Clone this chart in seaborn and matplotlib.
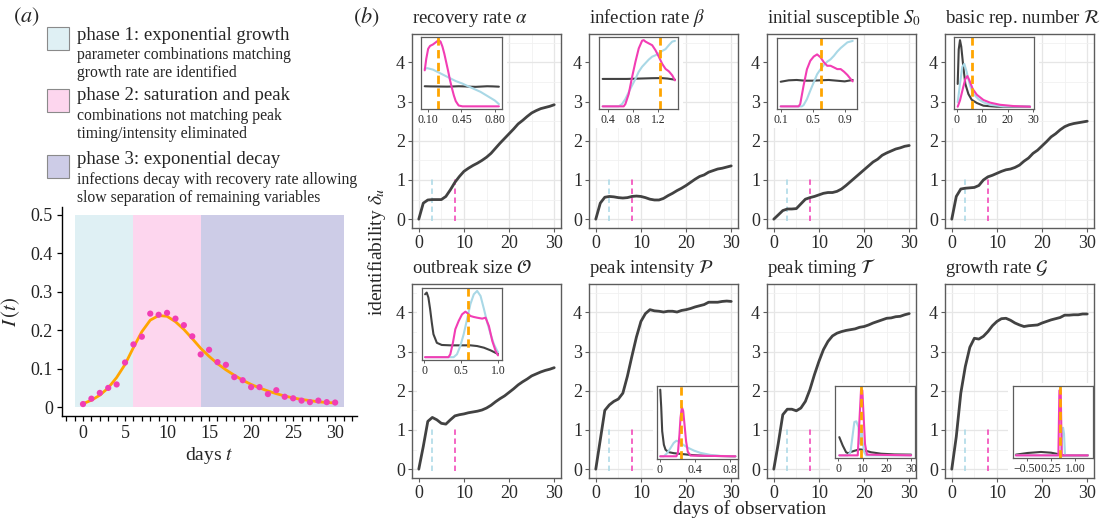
import matplotlib
matplotlib.use("Agg")
import matplotlib.pyplot as plt
import seaborn as sns
from matplotlib.patches import Rectangle
from matplotlib.ticker import MultipleLocator

# ---------------- data: panel (a) ----------------
obs_days = list(range(31))
I_obs = [0.008, 0.022, 0.037, 0.050, 0.059, 0.116, 0.163, 0.183, 0.243, 0.240,
         0.245, 0.230, 0.213, 0.184, 0.137, 0.149, 0.117, 0.110, 0.078, 0.070,
         0.052, 0.052, 0.034, 0.044, 0.027, 0.023, 0.017, 0.013, 0.017, 0.013, 0.012]
I_fit = [0.009, 0.018, 0.031, 0.050, 0.077, 0.111, 0.155, 0.196, 0.226, 0.238,
         0.236, 0.222, 0.202, 0.178, 0.153, 0.132, 0.113, 0.097, 0.083, 0.070,
         0.059, 0.050, 0.042, 0.035, 0.029, 0.024, 0.020, 0.017, 0.014, 0.012, 0.011]
phase_start = [-0.9, 6, 14]
phase_end = [6, 14, 31]
phase_titles = ["phase 1: exponential growth", "phase 2: saturation and peak",
                "phase 3: exponential decay"]
phase_desc = [["parameter combinations matching", "growth rate are identified"],
              ["combinations not matching peak", "timing/intensity eliminated"],
              ["infections decay with recovery rate allowing",
               "slow separation of remaining variables"]]

# ---------------- data: panel (b) main curves ----------------
days = list(range(31))
delta_alpha = [0, 0.41, 0.49, 0.50, 0.50, 0.50, 0.58, 0.75, 0.94, 1.09, 1.22, 1.30, 1.37,
               1.43, 1.50, 1.58, 1.68, 1.81, 1.94, 2.06, 2.18, 2.30, 2.43, 2.52, 2.62,
               2.71, 2.77, 2.82, 2.85, 2.88, 2.92]
delta_beta = [0, 0.41, 0.56, 0.58, 0.57, 0.55, 0.54, 0.55, 0.58, 0.59, 0.58, 0.55, 0.51,
              0.49, 0.49, 0.53, 0.60, 0.66, 0.73, 0.79, 0.86, 0.94, 1.02, 1.09, 1.13,
              1.20, 1.24, 1.28, 1.30, 1.33, 1.36]
delta_S0 = [0, 0.11, 0.22, 0.26, 0.26, 0.27, 0.39, 0.51, 0.55, 0.58, 0.62, 0.66, 0.68,
            0.68, 0.71, 0.77, 0.86, 0.96, 1.06, 1.16, 1.26, 1.36, 1.46, 1.53, 1.63,
            1.69, 1.74, 1.79, 1.82, 1.86, 1.88]
delta_R = [0, 0.58, 0.77, 0.79, 0.80, 0.81, 0.86, 1.00, 1.08, 1.12, 1.17, 1.22, 1.26,
           1.28, 1.32, 1.38, 1.48, 1.56, 1.68, 1.76, 1.87, 1.98, 2.10, 2.18, 2.28,
           2.36, 2.41, 2.44, 2.46, 2.48, 2.50]
delta_O = [0, 0.58, 1.22, 1.32, 1.26, 1.17, 1.15, 1.26, 1.36, 1.39, 1.41, 1.44, 1.46,
           1.48, 1.51, 1.56, 1.63, 1.72, 1.80, 1.87, 1.96, 2.05, 2.15, 2.23, 2.30,
           2.38, 2.43, 2.48, 2.52, 2.55, 2.59]
delta_P = [0, 0.75, 1.50, 1.64, 1.73, 1.79, 1.94, 2.37, 2.88, 3.37, 3.77, 3.97, 4.07,
           4.04, 4.03, 4.01, 4.03, 4.03, 4.01, 4.05, 4.07, 4.10, 4.14, 4.17, 4.20,
           4.26, 4.26, 4.26, 4.28, 4.29, 4.28]
delta_T = [0, 0.66, 1.39, 1.53, 1.53, 1.49, 1.56, 1.73, 2.03, 2.41, 2.75, 3.05, 3.26,
           3.40, 3.47, 3.51, 3.54, 3.56, 3.58, 3.62, 3.64, 3.68, 3.73, 3.77, 3.81,
           3.85, 3.86, 3.89, 3.90, 3.94, 3.97]
delta_G = [0, 0.83, 1.94, 2.62, 3.11, 3.34, 3.32, 3.39, 3.51, 3.66, 3.77, 3.84, 3.85,
           3.80, 3.73, 3.68, 3.64, 3.66, 3.67, 3.68, 3.73, 3.77, 3.81, 3.84, 3.87,
           3.93, 3.93, 3.94, 3.94, 3.96, 3.96]
panel_titles = ["recovery rate $\\alpha$", "infection rate $\\beta$",
                "initial susceptible $S_0$", "basic rep. number $\\mathcal{R}$",
                "outbreak size $\\mathcal{O}$", "peak intensity $\\mathcal{P}$",
                "peak timing $\\mathcal{T}$", "growth rate $\\mathcal{G}$"]
phase_marker_days = [3, 8]

# ---------------- data: insets (x in parameter units, y as relative density) ----------------
alpha_grey = ([0.064, 0.12, 0.18, 0.24, 0.30, 0.36, 0.42, 0.48, 0.54, 0.60, 0.66, 0.72, 0.78, 0.843],
              [0.318, 0.316, 0.315, 0.314, 0.313, 0.315, 0.318, 0.316, 0.312, 0.31, 0.314, 0.318, 0.316, 0.312])
alpha_blue = ([0.064, 0.09, 0.12, 0.15, 0.18, 0.21, 0.24, 0.27, 0.30, 0.33, 0.36, 0.39, 0.42, 0.46,
               0.50, 0.55, 0.60, 0.65, 0.70, 0.75, 0.80, 0.843],
              [0.56, 0.57, 0.56, 0.55, 0.53, 0.51, 0.49, 0.47, 0.45, 0.43, 0.41, 0.39, 0.375, 0.355,
               0.33, 0.30, 0.27, 0.24, 0.20, 0.16, 0.12, 0.07])
alpha_pink = ([0.064, 0.08, 0.10, 0.12, 0.15, 0.18, 0.21, 0.23, 0.25, 0.27, 0.29, 0.31, 0.33, 0.35,
               0.37, 0.39, 0.42, 0.46, 0.843],
              [0.54, 0.70, 0.84, 0.88, 0.90, 0.93, 0.96, 0.94, 0.87, 0.77, 0.65, 0.53, 0.40, 0.29,
               0.19, 0.11, 0.05, 0.038, 0.038])
alpha_true = 0.20

beta_grey = ([0.315, 0.5, 0.7, 0.9, 1.1, 1.25, 1.35, 1.467],
             [0.42, 0.42, 0.42, 0.425, 0.43, 0.432, 0.425, 0.41])
beta_blue = ([0.315, 0.57, 0.624, 0.677, 0.73, 0.784, 0.837, 0.89, 0.944, 0.997, 1.05, 1.104, 1.157,
              1.21, 1.264, 1.317, 1.37, 1.424, 1.467],
             [0.038, 0.038, 0.07, 0.14, 0.235, 0.33, 0.42, 0.52, 0.59, 0.64, 0.69, 0.73, 0.75,
              0.775, 0.81, 0.835, 0.89, 0.94, 0.95])
beta_pink = ([0.315, 0.65, 0.677, 0.73, 0.784, 0.837, 0.89, 0.944, 0.97, 0.997, 1.05, 1.104, 1.157,
              1.21, 1.264, 1.317, 1.37, 1.424, 1.467],
             [0.038, 0.038, 0.07, 0.21, 0.446, 0.657, 0.845, 0.953, 0.96, 0.94, 0.915, 0.89, 0.82,
              0.73, 0.63, 0.56, 0.526, 0.47, 0.40])
beta_true = 1.227

S0_grey = ([0.1, 0.2, 0.3, 0.4, 0.5, 0.6, 0.7, 0.8, 0.9, 1.0],
           [0.385, 0.405, 0.41, 0.40, 0.40, 0.405, 0.41, 0.40, 0.39, 0.41])
S0_blue = ([0.1, 0.365, 0.386, 0.428, 0.47, 0.513, 0.555, 0.597, 0.639, 0.681, 0.723, 0.765, 0.807,
            0.85, 0.892, 0.934, 1.0],
           [0.038, 0.038, 0.056, 0.14, 0.26, 0.376, 0.49, 0.56, 0.62, 0.667, 0.70, 0.75, 0.81,
            0.86, 0.90, 0.94, 0.96])
S0_pink = ([0.1, 0.323, 0.344, 0.386, 0.428, 0.47, 0.513, 0.555, 0.597, 0.639, 0.681, 0.723, 0.765,
            0.807, 0.85, 0.892, 0.934, 0.977, 1.0],
           [0.038, 0.038, 0.07, 0.33, 0.56, 0.68, 0.74, 0.77, 0.73, 0.66, 0.61, 0.61, 0.587,
            0.563, 0.563, 0.526, 0.48, 0.42, 0.39])
S0_true = 0.605

R_grey = ([0.4, 0.8, 1.3, 1.8, 2.6, 3.4, 4.6, 5.9, 7.9, 10.5, 15.7, 28.8],
          [0.35, 0.83, 0.96, 0.87, 0.59, 0.35, 0.21, 0.13, 0.085, 0.047, 0.033, 0.033])
R_blue = ([0.4, 1.3, 2.2, 3.0, 3.9, 5.2, 6.6, 8.5, 10.5, 13.1, 18.3, 28.8],
          [0.094, 0.35, 0.59, 0.63, 0.52, 0.33, 0.21, 0.14, 0.094, 0.06, 0.038, 0.035])
R_pink = ([0.4, 1.3, 2.6, 3.4, 4.2, 5.0, 6.3, 7.9, 10.5, 13.1, 17.0, 22.3, 28.8],
          [0.033, 0.12, 0.31, 0.42, 0.46, 0.40, 0.28, 0.20, 0.127, 0.09, 0.06, 0.042, 0.033])
R_true = 6.2

O_grey = ([0.014, 0.036, 0.059, 0.082, 0.105, 0.127, 0.173, 0.24, 0.355, 0.49, 0.627, 0.718, 0.81,
           0.9, 0.968, 1.0],
          [0.916, 0.94, 0.87, 0.71, 0.52, 0.36, 0.24, 0.21, 0.205, 0.205, 0.205, 0.195, 0.172,
           0.135, 0.10, 0.084])
O_blue = ([0.014, 0.40, 0.445, 0.49, 0.536, 0.582, 0.627, 0.673, 0.718, 0.764, 0.81, 0.855, 0.9,
           0.945, 0.99, 1.0],
          [0.04, 0.04, 0.08, 0.195, 0.36, 0.57, 0.78, 0.916, 0.963, 0.893, 0.71, 0.52, 0.36,
           0.22, 0.126, 0.11])
O_pink = ([0.014, 0.33, 0.355, 0.39, 0.423, 0.468, 0.514, 0.559, 0.59, 0.627, 0.673, 0.718, 0.786,
           0.832, 0.877, 0.923, 0.968, 1.0],
          [0.04, 0.04, 0.08, 0.24, 0.43, 0.544, 0.637, 0.674, 0.65, 0.614, 0.60, 0.59, 0.577,
           0.59, 0.474, 0.265, 0.126, 0.065])
O_true = 0.6

P_grey = ([0.008, 0.019, 0.03, 0.049, 0.068, 0.105, 0.16, 0.237, 0.35, 0.46, 0.61, 0.856],
          [0.95, 0.71, 0.38, 0.195, 0.126, 0.093, 0.08, 0.07, 0.056, 0.047, 0.042, 0.037])
P_blue = ([0.008, 0.049, 0.086, 0.124, 0.16, 0.19, 0.218, 0.255, 0.312, 0.387, 0.462, 0.575, 0.687, 0.856],
          [0.037, 0.037, 0.08, 0.15, 0.22, 0.25, 0.24, 0.205, 0.16, 0.116, 0.084, 0.056, 0.042, 0.037])
P_pink = ([0.008, 0.19, 0.207, 0.225, 0.237, 0.252, 0.267, 0.282, 0.30, 0.319, 0.349, 0.856],
          [0.037, 0.037, 0.08, 0.335, 0.567, 0.71, 0.66, 0.474, 0.242, 0.10, 0.047, 0.037])
P_true = 0.237

T_grey = ([0.4, 1.8, 3.2, 4.1, 5.2, 6.6, 8.7, 10.0, 11.4, 13.5, 17.6, 23.1, 30],
          [0.29, 0.174, 0.08, 0.065, 0.084, 0.10, 0.12, 0.116, 0.10, 0.08, 0.06, 0.05, 0.047])
T_blue = ([0.4, 3.9, 5.0, 5.8, 6.6, 7.4, 8.3, 8.8, 9.2, 9.6, 10.0, 10.7, 11.4, 30],
          [0.037, 0.037, 0.08, 0.29, 0.50, 0.51, 0.43, 0.20, 0.40, 0.40, 0.22, 0.08, 0.037, 0.037])
T_pink = ([0.4, 8.0, 8.7, 9.35, 9.9, 10.45, 11.0, 11.8, 30],
          [0.037, 0.037, 0.52, 0.94, 0.94, 0.567, 0.195, 0.047, 0.037])
T_true = 9.35

G_grey = ([-0.83, -0.47, -0.06, 0.25, 0.455, 0.56, 1.38],
          [0.047, 0.07, 0.084, 0.074, 0.056, 0.037, 0.037])
G_blue = ([-0.83, 0.56, 0.59, 0.62, 0.65, 0.68, 1.38],
          [0.037, 0.037, 0.335, 0.42, 0.335, 0.037, 0.037])
G_pink = ([-0.83, 0.476, 0.507, 0.548, 0.58, 1.38],
          [0.037, 0.037, 0.94, 0.94, 0.037, 0.037])
G_true = 0.538

inset_ticks = [[0.10, 0.45, 0.80], [0.4, 0.8, 1.2], [0.1, 0.5, 0.9], [0, 10, 20, 30],
               [0, 0.5, 1.0], [0, 0.4, 0.8], [0, 10, 20, 30], [-0.5, 0.25, 1.0]]
inset_ticklabels = [["0.10", "0.45", "0.80"], ["0.4", "0.8", "1.2"], ["0.1", "0.5", "0.9"],
                    ["0", "10", "20", "30"], ["0", "0.5", "1.0"], ["0", "0.4", "0.8"],
                    ["0", "10", "20", "30"], ["\u22120.50", "0.25", "1.00"]]

# ---------------- styling / layout ----------------
sns.set_theme(style="white")
plt.rcParams['font.family'] = ['Liberation Serif', 'DejaVu Serif']
plt.rcParams['mathtext.fontset'] = 'stix'

W, H = 1104, 523
C_GREY = '#424242'
C_BLUE = '#a9d8e6'
C_PINK = '#f23db4'
C_ORANGE = '#ffa500'
PHASE_COLORS = ['#dff0f4', '#fdd6ee', '#cdcce7']

fig = plt.figure(figsize=(W / 100, H / 100), dpi=100)


def fx(px):
    return px / W


def fy(py):
    return 1 - py / H


# ---------------- panel (a) ----------------
axa = fig.add_axes([fx(62), fy(416), fx(295), 209 / H])
for s, e, c in zip(phase_start, phase_end, PHASE_COLORS):
    axa.fill_between([s, e], 0, 0.5, color=c, lw=0, zorder=0)
sns.lineplot(x=obs_days, y=I_fit, ax=axa, color=C_ORANGE, lw=2, zorder=2)
sns.scatterplot(x=obs_days, y=I_obs, ax=axa, color=C_PINK, s=20, edgecolor='none', zorder=3)
axa.set_xlim(-2.5, 32.6)
axa.set_ylim(-0.023, 0.52)
axa.set_xticks([0, 5, 10, 15, 20, 25, 30])
axa.xaxis.set_minor_locator(MultipleLocator(1))
axa.set_yticks([0, 0.1, 0.2, 0.3, 0.4, 0.5])
axa.set_yticklabels(["0", "0.1", "0.2", "0.3", "0.4", "0.5"])
for side in ['top', 'right']:
    axa.spines[side].set_visible(False)
for side in ['left', 'bottom']:
    axa.spines[side].set_color('black')
    axa.spines[side].set_linewidth(1.0)
axa.tick_params(which='both', bottom=True, left=True, length=3.5, width=0.9, color='black',
                labelsize=13, labelcolor='#222222', pad=3)
axa.tick_params(axis='y', which='minor', left=False)
axa.set_xlabel("days $t$", fontsize=14, labelpad=2)
axa.set_ylabel("$I\\,(t)$", fontsize=15, labelpad=6)

fig.text(fx(26), fy(17), "$(a)$", fontsize=16, ha='center', va='center')
fig.text(fx(366), fy(17), "$(b)$", fontsize=16, ha='center', va='center')

sq_top = [27, 89, 155]
title_y = [35, 96, 160]
for i in range(3):
    fig.patches.append(Rectangle((fx(47), fy(sq_top[i] + 23)), fx(22), 23 / H,
                                 transform=fig.transFigure, facecolor=PHASE_COLORS[i],
                                 edgecolor='#8a8a8a', lw=0.8))
    fig.text(fx(77), fy(title_y[i]), phase_titles[i], fontsize=13.5, ha='left', va='center')
    for j, line in enumerate(phase_desc[i]):
        fig.text(fx(77), fy(title_y[i] + 20 + 18 * j), line, fontsize=11.3, ha='left', va='center')

# ---------------- panel (b) ----------------
deltas = [delta_alpha, delta_beta, delta_S0, delta_R, delta_O, delta_P, delta_T, delta_G]
insets = [(alpha_grey, alpha_blue, alpha_pink, alpha_true),
          (beta_grey, beta_blue, beta_pink, beta_true),
          (S0_grey, S0_blue, S0_pink, S0_true),
          (R_grey, R_blue, R_pink, R_true),
          (O_grey, O_blue, O_pink, O_true),
          (P_grey, P_blue, P_pink, P_true),
          (T_grey, T_blue, T_pink, T_true),
          (G_grey, G_blue, G_pink, G_true)]
inset_xlim = [(0.021, 0.879), (0.261, 1.52), (0.05, 1.05), (-0.9, 30.4),
              (-0.032, 1.05), (-0.026, 0.883), (-1.4, 31.6), (-0.93, 1.53)]
inset_bounds = [[0.058, 0.613, 0.548, 0.37], [0.069, 0.613, 0.53, 0.37],
                [0.065, 0.613, 0.537, 0.366], [0.063, 0.613, 0.535, 0.37],
                [0.065, 0.608, 0.537, 0.37], [0.458, 0.098, 0.54, 0.376],
                [0.456, 0.103, 0.537, 0.371], [0.454, 0.103, 0.537, 0.371]]
col_left = [412, 589, 767, 945]
row_top = [34, 284]
SPINE = '#5c5c5c'

for k in range(8):
    r, c = divmod(k, 4)
    ax = fig.add_axes([fx(col_left[c]), fy(row_top[r] + 194), fx(149), 194 / H])
    ax.set_axisbelow(True)
    ax.set_xlim(-1.5, 31.5)
    ax.set_ylim(-0.225, 4.725)
    ax.set_xticks([0, 10, 20, 30])
    ax.set_yticks([0, 1, 2, 3, 4])
    ax.xaxis.set_minor_locator(MultipleLocator(5))
    ax.yaxis.set_minor_locator(MultipleLocator(0.5))
    ax.grid(which='major', color='#e6e6e6', lw=0.9)
    ax.grid(which='minor', color='#f1f1f1', lw=0.6)
    for sp in ax.spines.values():
        sp.set_color(SPINE)
        sp.set_linewidth(1.0)
    ax.tick_params(which='major', bottom=True, left=True, length=3, width=0.8, color=SPINE,
                   labelsize=13, labelcolor='#2a2a2a', pad=2)
    ax.tick_params(which='minor', length=0)

    # phase marker lines
    for d, col in zip(phase_marker_days, [C_BLUE, C_PINK]):
        ax.vlines(d, -0.05, 1.05, colors=col, linestyles=(0, (3, 2)), lw=1.3, alpha=0.85, zorder=2)
    sns.lineplot(x=days, y=deltas[k], ax=ax, color=C_GREY, lw=2.0, zorder=3)
    ax.set_xlabel('')
    ax.set_ylabel('')
    ax.set_title(panel_titles[k], loc='left', fontsize=13.5, pad=8)

    # white backdrop behind inset and its tick labels
    x0, y0, w, h = inset_bounds[k]
    if r == 0:
        ax.add_patch(Rectangle((0, y0 - 0.095), x0 + w + 0.03, 1 - (y0 - 0.095), transform=ax.transAxes,
                               facecolor='white', edgecolor='none', zorder=1))
    else:
        ax.add_patch(Rectangle((x0 - 0.03, 0), 1 - (x0 - 0.03), y0 + h + 0.015, transform=ax.transAxes,
                               facecolor='white', edgecolor='none', zorder=1))

    ins = ax.inset_axes(inset_bounds[k])
    ins.set_facecolor('white')
    g, b, p, truth = insets[k]
    for (xs, ys), col in zip([g, b, p], [C_GREY, C_BLUE, C_PINK]):
        sns.lineplot(x=xs, y=ys, ax=ins, color=col, lw=1.5)
    ins.axvline(truth, color=C_ORANGE, lw=2, ls=(0, (3, 1.6)))
    ins.set_xlim(inset_xlim[k])
    ins.set_ylim(0, 1)
    ins.set_xticks(inset_ticks[k])
    ins.set_xticklabels(inset_ticklabels[k])
    ins.set_yticks([])
    ins.grid(False)
    ins.set_xlabel('')
    ins.set_ylabel('')
    for sp in ins.spines.values():
        sp.set_color(SPINE)
        sp.set_linewidth(0.9)
    ins.tick_params(axis='x', bottom=True, length=2.5, width=0.7, color=SPINE,
                    labelsize=8.5, labelcolor='#2a2a2a', pad=1)

fig.text(fx(377), fy(252), "identifiability $\\delta_u$", rotation=90, fontsize=14,
         ha='center', va='center')
fig.text(fx(750), fy(509), "days of observation", fontsize=14, ha='center', va='center')

fig.savefig("out.png", dpi=100)
